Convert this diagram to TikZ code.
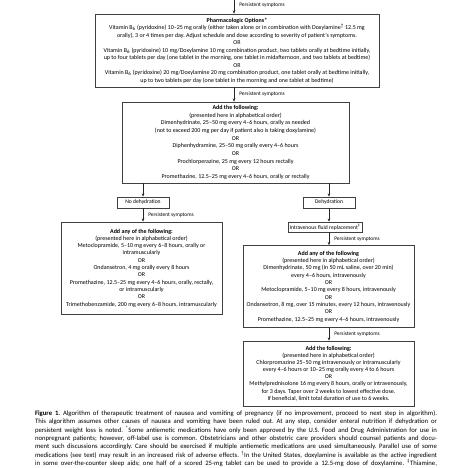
\documentclass[tikz,border=0pt]{standalone}
\usepackage{fontspec}
\setmainfont{Carlito}
\usetikzlibrary{arrows.meta}
\frenchspacing
\begin{document}
\begin{tikzpicture}[x=1pt,y=-1pt,
  box/.style={draw=black!75,line width=0.7pt,align=center,inner sep=0pt},
  smallbox/.style={draw=black!75,line width=0.6pt,inner sep=0pt,font=\fontsize{5.6}{6}\selectfont},
  arr/.style={draw=black!85,line width=0.6pt,-{Stealth[length=3.2pt,width=2.6pt]}},
  lab/.style={font=\fontsize{5.4}{6}\selectfont,anchor=west,inner sep=0pt,xshift=5pt},
  capline/.style={inner sep=0pt,font=\fontsize{6.7}{8}\selectfont},
]
\useasboundingbox (0,0) rectangle (474,468);

% ---- boxes
\node[box,minimum width=284pt,minimum height=73pt,font=\fontsize{6.0}{7.5}\selectfont] (b1) at (237,50.5) {%
{\bfseries Pharmacologic Options*}\\
Vitamin B\textsubscript{6} (pyridoxine) 10--25 mg orally (either taken alone or in combination with Doxylamine\textsuperscript{†} 12.5 mg\\
orally), 3 or 4 times per day. Adjust schedule and dose according to severity of patient’s symptoms.\\
OR\\
Vitamin B\textsubscript{6} (pyridoxine) 10 mg/Doxylamine 10 mg combination product, two tablets orally at bedtime initially,\\
up to four tablets per day (one tablet in the morning, one tablet in midafternoon, and two tablets at bedtime)\\
OR\\
Vitamin B\textsubscript{6} (pyridoxine) 20 mg/Doxylamine 20 mg combination product, one tablet orally at bedtime initially,\\
up to two tablets per day (one tablet in the morning and one tablet at bedtime)};

\node[box,minimum width=227pt,minimum height=81pt,font=\fontsize{6.0}{7.67}\selectfont] (b2) at (235.5,142.5) {%
{\bfseries Add the following:}\\
(presented here in alphabetical order)\\
Dimenhydrinate, 25--50 mg every 4--6 hours, orally as needed\\
(not to exceed 200 mg per day if patient also is taking doxylamine)\\
OR\\
Diphenhydramine, 25--50 mg orally every 4--6 hours\\
OR\\
Prochlorperazine, 25 mg every 12 hours rectally\\
OR\\
Promethazine, 12.5--25 mg every 4--6 hours, orally or rectally};

\node[smallbox,minimum width=52pt,minimum height=11pt] (nd) at (143,202.5) {No dehydration};
\node[smallbox,minimum width=52pt,minimum height=11pt] (dh) at (329,202.5) {Dehydration};
\node[smallbox,minimum width=74pt,minimum height=10pt] (iv) at (325,227) {Intravenous fluid replacement\textsuperscript{‡}};

\node[box,minimum width=161pt,minimum height=92pt,font=\fontsize{6.0}{7.3}\selectfont] (b3) at (141.5,268) {%
{\bfseries Add any of the following:}\\
(presented here in alphabetical order)\\
Metoclopramide, 5--10 mg every 6--8 hours, orally or\\
intramuscularly\\
OR\\
Ondansetron, 4 mg orally every 8 hours\\
OR\\
Promethazine, 12.5--25 mg every 4--6 hours, orally, rectally,\\
or intramuscularly\\
OR\\
Trimethobenzamide, 200 mg every 6--8 hours, intramuscularly};

\node[box,minimum width=171pt,minimum height=82pt,font=\fontsize{6.0}{7.33}\selectfont] (r1) at (328.5,286.5) {%
{\bfseries Add any of the following}\\
(presented here in alphabetical order)\\
Dimenhydrinate, 50 mg (in 50 mL saline, over 20 min)\\
every 4--6 hours, intravenously\\
OR\\
Metoclopramide, 5--10 mg every 8 hours, intravenously\\
OR\\
Ondansetron, 8 mg, over 15 minutes, every 12 hours, intravenously\\
OR\\
Promethazine, 12.5--25 mg every 4--6 hours, intravenously};

\node[box,minimum width=171pt,minimum height=65pt,font=\fontsize{6.0}{7.15}\selectfont] (r2) at (328.5,373.5) {%
{\bfseries Add the following:}\\
(presented here in alphabetical order)\\
Chlorpromazine 25--50 mg intravenously or intramuscularly\\
every 4--6 hours or 10--25 mg orally every 4 to 6 hours\\
OR\\
Methylprednisolone 16 mg every 8 hours, orally or intravenously,\\
for 3 days. Taper over 2 weeks to lowest effective dose.\\
If beneficial, limit total duration of use to 6 weeks.};

% ---- connectors
\coordinate (top) at (234,0);
\draw[arr] (top) -- (top|-b1.north) node[lab,pos=0.4] {Persistent symptoms};
\draw[arr] (top|-b1.south) -- (top|-b2.north) node[lab,midway] {Persistent symptoms};
\draw[arr] (nd|-b2.south) -- (nd);
\draw[arr] (dh|-b2.south) -- (dh);
\draw[arr] (nd) -- (nd|-b3.north) node[lab,midway] {Persistent symptoms};
\draw[arr] (dh) -- (dh|-iv.north);
\draw[arr] (dh|-iv.south) -- (dh|-r1.north) node[lab,midway] {Persistent symptoms};
\draw[arr] (dh|-r1.south) -- (dh|-r2.north) node[lab,midway] {Persistent symptoms};

% ---- caption
\node[capline] (c1) at (236,414.0) {\makebox[402pt][s]{{\bfseries Figure 1.} Algorithm of therapeutic treatment of nausea and vomiting of pregnancy (if no improvement, proceed to next step in algorithm).}};
\node[capline] (c2) at (236,422.1) {\makebox[402pt][s]{This algorithm assumes other causes of nausea and vomiting have been ruled out. At any step, consider enteral nutrition if dehydration or}};
\node[capline] (c3) at (236,430.2) {\makebox[402pt][s]{persistent weight loss is noted. \textsuperscript{*}Some antiemetic medications have only been approved by the U.S. Food and Drug Administration for use in}};
\node[capline] (c4) at (236,438.3) {\makebox[402pt][s]{nonpregnant patients; however, off-label use is common. Obstetricians and other obstetric care providers should counsel patients and docu-}};
\node[capline] (c5) at (236,446.4) {\makebox[402pt][s]{ment such discussions accordingly. Care should be exercised if multiple antiemetic medications are used simultaneously. Parallel use of some}};
\node[capline] (c6) at (236,454.5) {\makebox[402pt][s]{medications (see text) may result in an increased risk of adverse effects. \textsuperscript{†}In the United States, doxylamine is available as the active ingredient}};
\node[capline] (c7) at (236,462.6) {\makebox[402pt][s]{in some over-the-counter sleep aids; one half of a scored 25-mg tablet can be used to provide a 12.5-mg dose of doxylamine. \textsuperscript{‡}Thiamine,}};
\end{tikzpicture}
\end{document}
